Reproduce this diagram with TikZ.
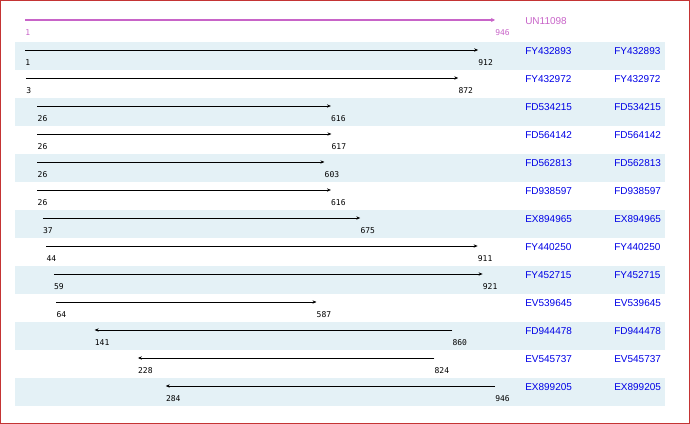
\documentclass[tikz,border=0pt]{standalone}
\usepackage{fontspec}
\setmainfont{Liberation Sans}
\setmonofont{DejaVu Sans Mono}
\usetikzlibrary{arrows.meta}
\definecolor{bandblue}{RGB}{228,241,246}
\definecolor{framered}{RGB}{196,52,52}
\definecolor{querypink}{RGB}{200,100,200}
\definecolor{hitblue}{RGB}{0,0,230}
\tikzset{
  hitline/.style={draw=black, line width=0.6pt, -{Stealth[length=3pt,width=2.5pt]}},
  numlabel/.style={font=\ttfamily\fontsize{6}{6}\selectfont, anchor=west, inner sep=0pt},
  acclabel/.style={font=\fontsize{7.5}{8}\selectfont, text=hitblue, anchor=west, inner sep=0pt}
}
\begin{document}
\begin{tikzpicture}[x=0.75pt,y=0.75pt,yscale=-1,xscale=1]
        \useasboundingbox (0,0) rectangle (690,424);
        %Frame
        \draw [framered, line width=1.2pt] (0.6,0.6) rectangle (689.4,423.4);
        %Query
        \draw [querypink, line width=1.3pt, -{Stealth[length=3pt,width=3pt]}] (25,20) -- (495,20);
        \node [numlabel, text=querypink] (qs) at (25,33) {1};
        \node [numlabel, text=querypink] (qe) at (495,33) {946};
        \node [acclabel, text=querypink] (qname) at (525,21) {UN11098};
        %Hits
        \foreach \s/\e/\name/\dir [count=\i] in {1/912/FY432893/r, 3/872/FY432972/r, 26/616/FD534215/r,
            26/617/FD564142/r, 26/603/FD562813/r, 26/616/FD938597/r, 37/675/EX894965/r,
            44/911/FY440250/r, 59/921/FY452715/r, 64/587/EV539645/r, 141/860/FD944478/l,
            228/824/EV545737/l, 284/946/EX899205/l} {
          \pgfmathsetmacro{\top}{42+28*(\i-1)}
          \pgfmathsetmacro{\xs}{25+(\s-1)*0.4974}
          \pgfmathsetmacro{\xe}{25+(\e-1)*0.4974}
          \ifodd\i
            \fill [bandblue] (15,\top) rectangle (665,\top+28);
          \fi
          \coordinate (s\i) at (\xs,\top+8);
          \coordinate (e\i) at (\xe,\top+8);
          \if r\dir
            \draw [hitline] (s\i) -- (e\i);
          \else
            \draw [hitline] (e\i) -- (s\i);
          \fi
          \node [numlabel] (ls\i) at (\xs,\top+21) {\s};
          \node [numlabel] (le\i) at (\xe,\top+21) {\e};
          \node [acclabel] (na\i) at (525,\top+9) {\name};
          \node [acclabel] (nb\i) at (614,\top+9) {\name};
        }
\end{tikzpicture}
\end{document}
